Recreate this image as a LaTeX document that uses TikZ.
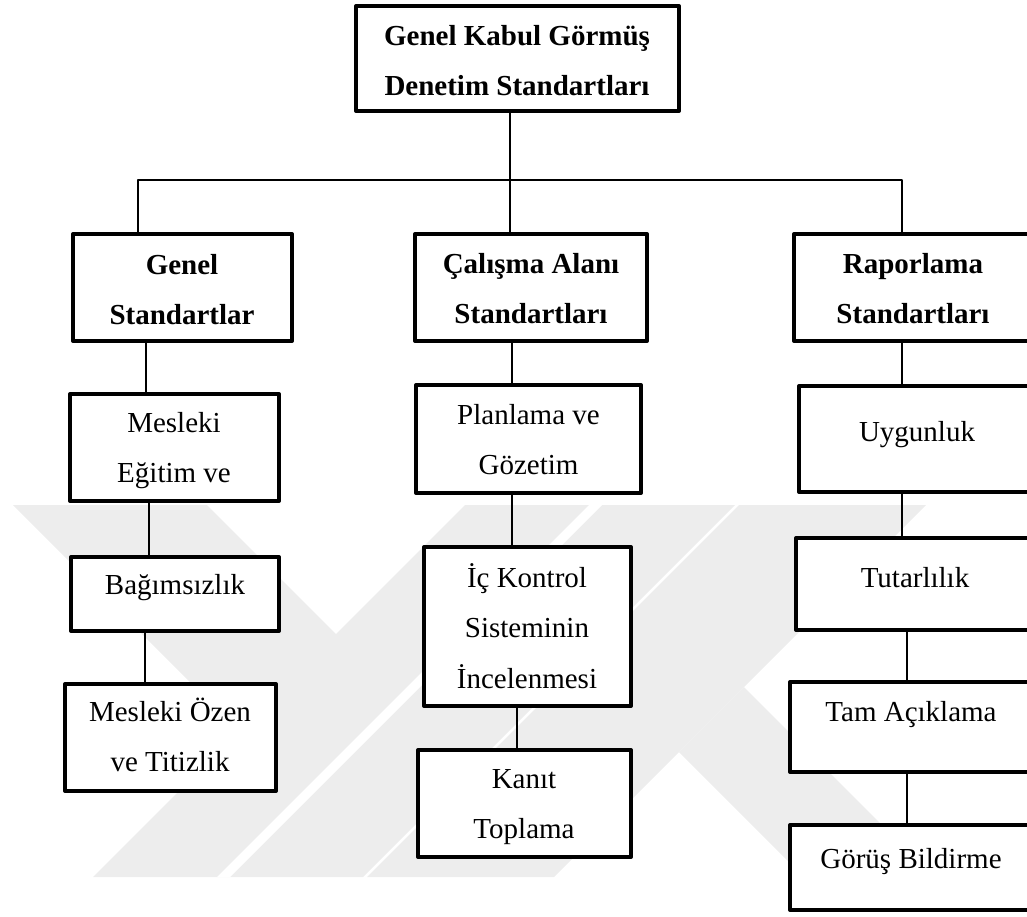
\documentclass[tikz,border=0pt]{standalone}
\usepackage{fontspec}
\setmainfont{Liberation Serif}
% centred lines stacked at a fixed baseline distance; the baseline of the
% whole block is the baseline of its first line
\newcommand\stackedlines[1]{\vtop{\baselineskip=25.25pt\lineskiplimit=-100pt
  \halign{\hfil##\hfil\cr#1\crcr}}}
\begin{document}
\begin{tikzpicture}[x=0.5pt, y=-0.5pt, line join=round,
  box/.style={draw, rectangle, line width=2pt, fill=white, inner sep=0pt},
  txt/.style={anchor=base, inner sep=0pt, font=\fontsize{14.5pt}{25.25pt}\selectfont},
  hd/.style={txt, font=\fontsize{14.5pt}{25.25pt}\selectfont\bfseries},
  conn/.style={line width=0.8pt},
  wm/.style={fill=black!7, draw=none}]
\useasboundingbox (0,0) rectangle (1027,916);
\clip (0,0) rectangle (1027,916);

% faint logo in the background
\fill[wm] (13,505) -- (207,505) -- (336,634) -- (465,505) -- (735,505)
          -- (363,877) -- (93,877) -- (239,731) -- cycle;
\fill[white] (217,877) -- (230,877) -- (602,505) -- (589,505) -- cycle;
\fill[wm] (367,877) -- (554,877) -- (926,505) -- (739,505) -- cycle;
\fill[wm] (744,687) -- (934,877) -- (804,877) -- (679,752) -- cycle;

% top box
\node[box, minimum width=161.5pt, minimum height=52.5pt] (gks) at (517.5,58.5) {};
\node[hd] (gks-t) at (517,45) {\stackedlines{Genel Kabul Görmüş\cr Denetim Standartları}};

% second level
\node[box, minimum width=109.5pt, minimum height=53.5pt] (gen) at (182.5,287.5) {};
\node[hd] (gen-t) at (182,274) {\stackedlines{Genel\cr Standartlar}};
\node[box, minimum width=116pt, minimum height=53.5pt] (cal) at (531,287.5) {};
\node[hd] (cal-t) at (531,273) {\stackedlines{Çalışma Alanı\cr Standartları}};
\node[box, minimum width=119pt, minimum height=53.5pt] (rap) at (913,287.5) {};
\node[hd] (rap-t) at (913,273) {\stackedlines{Raporlama\cr Standartları}};

% general standards
\node[box, minimum width=104.5pt, minimum height=53.5pt] (m1) at (174.5,447.5) {};
\node[txt] (m1-t) at (174,432) {\stackedlines{Mesleki\cr Eğitim ve}};
\node[box, minimum width=104pt, minimum height=37pt] (m2) at (175,594) {};
\node[txt] (m2-t) at (175,594) {Bağımsızlık};
\node[box, minimum width=105.5pt, minimum height=53.5pt] (m3) at (170.5,737.5) {};
\node[txt] (m3-t) at (170,721) {\stackedlines{Mesleki Özen\cr ve Titizlik}};

% field work standards
\node[box, minimum width=112.5pt, minimum height=54pt] (c1) at (528.5,439) {};
\node[txt] (c1-t) at (528.5,424) {\stackedlines{Planlama ve\cr Gözetim}};
\node[box, minimum width=103.5pt, minimum height=79.5pt] (c2) at (527.5,626.5) {};
\node[txt] (c2-t) at (527,587) {\stackedlines{İç Kontrol\cr Sisteminin\cr İncelenmesi}};
\node[box, minimum width=106.5pt, minimum height=53.5pt] (c3) at (524.5,803.5) {};
\node[txt] (c3-t) at (524,788) {\stackedlines{Kanıt\cr Toplama}};

% reporting standards
\node[box, minimum width=118pt, minimum height=53pt] (r1) at (917,439) {};
\node[txt] (r1-t) at (917,441) {Uygunluk};
\node[box, minimum width=119pt, minimum height=46pt] (r2) at (915,584) {};
\node[txt] (r2-t) at (915,587) {Tutarlılık};
\node[box, minimum width=121.5pt, minimum height=45pt] (r3) at (911.5,727) {};
\node[txt] (r3-t) at (911,721) {Tam Açıklama};
\node[box, minimum width=121pt, minimum height=42.5pt] (r4) at (911,867.5) {};
\node[txt] (r4-t) at (911,868) {Görüş Bildirme};

% connectors
\coordinate (busL) at (138,180);
\coordinate (busM) at (510,180);
\coordinate (busR) at (902,180);
\draw[conn] (gks.south -| busM) -- (busM);
\draw[conn] (busL |- gen.north) -- (busL) -- (busR) -- (busR |- rap.north);
\draw[conn] (busM) -- (busM |- cal.north);

\draw[conn] (gen.south -| 146,0) -- (m1.north -| 146,0);
\draw[conn] (m1.south -| 149,0) -- (m2.north -| 149,0);
\draw[conn] (m2.south -| 145,0) -- (m3.north -| 145,0);

\draw[conn] (cal.south -| 512,0) -- (c1.north -| 512,0);
\draw[conn] (c1.south -| 512,0) -- (c2.north -| 512,0);
\draw[conn] (c2.south -| 517,0) -- (c3.north -| 517,0);

\draw[conn] (rap.south -| 902,0) -- (r1.north -| 902,0);
\draw[conn] (r1.south -| 902,0) -- (r2.north -| 902,0);
\draw[conn] (r2.south -| 907,0) -- (r3.north -| 907,0);
\draw[conn] (r3.south -| 907,0) -- (r4.north -| 907,0);
\end{tikzpicture}
\end{document}
